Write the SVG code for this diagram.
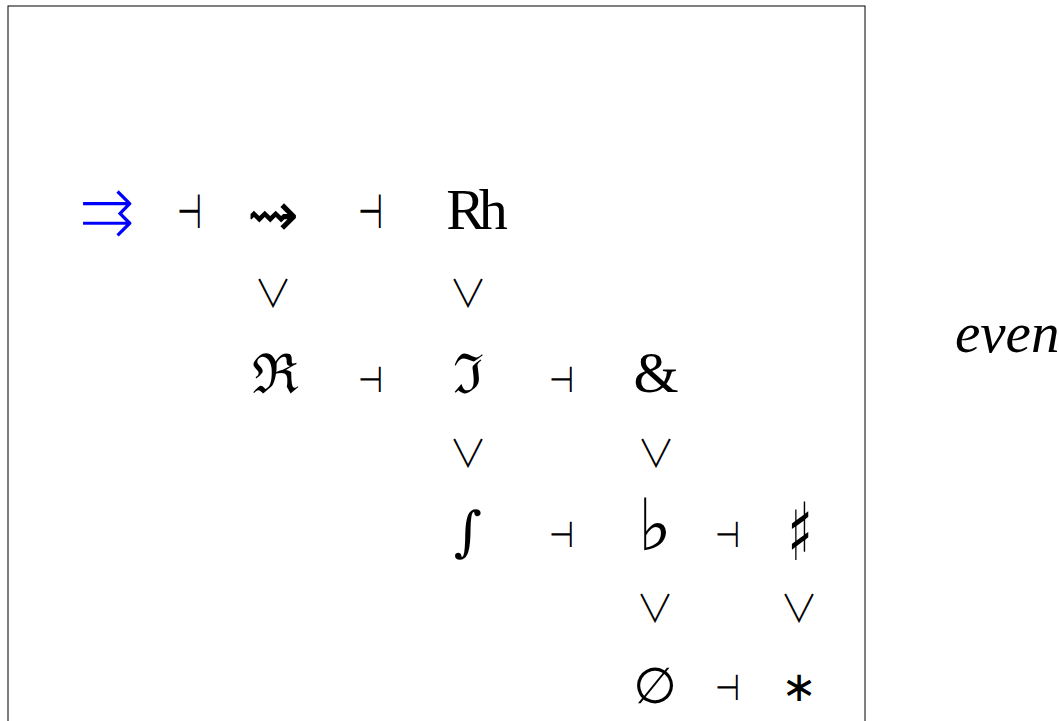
<svg xmlns="http://www.w3.org/2000/svg" width="1059" height="721" viewBox="0 0 1059 721">
<style>
.sym{font-family:"DejaVu Sans",sans-serif;fill:#000;text-anchor:middle}
.lt{font-weight:200}
.ta{font-size:48px;font-weight:200}
.tb{font-size:36px;font-weight:200}
.or{font-family:"Noto Sans CJK JP","DejaVu Sans",sans-serif;font-size:38px;font-weight:300;fill:#000;text-anchor:middle}
.rm{font-family:"Liberation Serif","DejaVu Serif",serif;fill:#000;text-anchor:middle}
.fr{font-family:"DejaVu Serif",serif;fill:#000;text-anchor:middle;font-size:55px}
</style>
<rect x="8" y="6" width="857" height="730" fill="none" stroke="#000" stroke-width="1"/>
<g id="nodes">
<g id="n-rightrightarrows"><text class="sym lt" x="107" y="234" style="font-size:66px;fill:#0000ff">⇉</text></g>
<g id="n-squig"><text class="sym lt" x="273" y="236" style="font-size:62px">⇝</text></g>
<g id="n-Rh"><text class="rm" x="474" y="229" style="font-size:58px;letter-spacing:-6px">Rh</text></g>
<g id="n-Re"><text class="fr" x="275" y="393">ℜ</text></g>
<g id="n-Im"><text class="fr" x="468" y="393">ℑ</text></g>
<g id="n-amp"><text class="rm" x="656" y="392" style="font-size:58px">&amp;</text></g>
<g id="n-int"><text class="fr" x="468" y="550" style="font-size:54px">∫</text></g>
<g id="n-flat"><text class="sym" x="655" y="550" style="font-size:72px">♭</text></g>
<g id="n-sharp"><text class="sym" transform="translate(800,560) scale(0.65,1)" style="font-size:80px">♯</text></g>
<g id="n-empty"><text class="sym" x="655" y="703" style="font-size:50px">∅</text></g>
<g id="n-ast"><text class="sym" x="799" y="701" style="font-size:42px">∗</text></g>
<g id="n-even"><text x="955" y="352" style="font-family:'Liberation Serif',serif;font-style:italic;font-size:57px">even</text></g>
</g>
<g id="connectors">
<text class="sym ta" transform="translate(190,228) scale(0.6,1)">⊣</text>
<text class="sym ta" transform="translate(371,228) scale(0.6,1)">⊣</text>
<text class="sym tb" transform="translate(371,392) scale(0.8,1)">⊣</text>
<text class="sym tb" transform="translate(562,392) scale(0.8,1)">⊣</text>
<text class="sym tb" transform="translate(562,547) scale(0.8,1)">⊣</text>
<text class="sym tb" transform="translate(728,547) scale(0.8,1)">⊣</text>
<text class="sym tb" transform="translate(728,700) scale(0.8,1)">⊣</text>
<text class="or" x="273" y="307">∨</text>
<text class="or" x="468" y="307">∨</text>
<text class="or" x="468" y="467">∨</text>
<text class="or" x="656" y="467">∨</text>
<text class="or" x="655" y="622">∨</text>
<text class="or" x="799" y="622">∨</text>
</g>
</svg>
